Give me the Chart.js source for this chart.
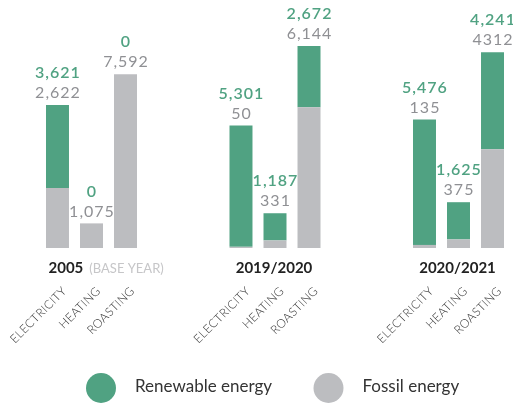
<!DOCTYPE html>
<html lang="en">
<head>
    <meta charset="UTF-8">
    <title>Energy use by source</title>
    <script src="https://cdn.jsdelivr.net/npm/chart.js"></script>
    <style>
        html, body { margin: 0; padding: 0; background: #fff; }
        #wrap { width: 513px; height: 403px; }
    </style>
</head>
<body>
    <div id="wrap"><canvas id="energy-chart"></canvas></div>

    <script>
        // periods along the x axis and the three uses shown in each
        const periods = ['2005', '2019/2020', '2020/2021'];
        const periodNotes = ['(BASE YEAR)', '', ''];
        const uses = ['ELECTRICITY', 'HEATING', 'ROASTING'];

        // renewable energy per use, one value per period
        const renewableElectricity = [3621, 5301, 5476];
        const renewableHeating = [0, 1187, 1625];
        const renewableRoasting = [0, 2672, 4241];

        // fossil energy per use, one value per period
        const fossilElectricity = [2622, 50, 135];
        const fossilHeating = [1075, 331, 375];
        const fossilRoasting = [7592, 6144, 4312];

        // the printed labels (the last roasting figure has no comma in the source)
        const fmt = v => v.toLocaleString('en-US');
        const fossilRoastingText = ['7,592', '6,144', '4312'];

        const GREEN = '#50a282';
        const GREY = '#bcbdc0';
        const FONT = 'Lato, "Noto Sans", sans-serif';

        const renewable = [renewableElectricity, renewableHeating, renewableRoasting];
        const fossil = [fossilElectricity, fossilHeating, fossilRoasting];
        const fossilText = [fossilElectricity.map(fmt), fossilHeating.map(fmt), fossilRoastingText];

        const datasets = [];
        uses.forEach((use, i) => {
            datasets.push({ label: 'Fossil energy', use: i, kind: 'fossil', stack: use,
                data: fossil[i], backgroundColor: GREY, clip: false });
            datasets.push({ label: 'Renewable energy', use: i, kind: 'renewable', stack: use,
                data: renewable[i], backgroundColor: GREEN, clip: false });
        });

        // numbers above each bar, period titles, rotated use labels and the legend
        const annotate = {
            id: 'annotate',
            afterDatasetsDraw(chart) {
                const ctx = chart.ctx;
                const y = chart.scales.y;
                const base = y.getPixelForValue(0);
                ctx.save();

                uses.forEach((use, i) => {
                    const meta = chart.getDatasetMeta(i * 2 + 1);
                    meta.data.forEach((bar, j) => {
                        const top = y.getPixelForValue(fossil[i][j] + renewable[i][j]);
                        ctx.textAlign = 'center';
                        ctx.textBaseline = 'middle';
                        ctx.letterSpacing = '1px';
                        ctx.font = '16px ' + FONT;
                        ctx.fillStyle = '#8f9094';
                        ctx.fillText(fossilText[i][j], bar.x + 0.5, top - 12);
                        ctx.font = '600 16px ' + FONT;
                        ctx.fillStyle = GREEN;
                        ctx.fillText(fmt(renewable[i][j]), bar.x + 0.5, top - 32);
                        ctx.letterSpacing = '0px';

                        // rotated category label
                        ctx.save();
                        ctx.translate(bar.x + 7, base + 41);
                        ctx.rotate(-Math.PI / 4);
                        ctx.textAlign = 'right';
                        ctx.letterSpacing = '0.3px';
                        ctx.font = '300 12px ' + FONT;
                        ctx.fillStyle = '#333';
                        ctx.fillText(use, 0, 0);
                        ctx.restore();
                    });
                });

                // period titles
                const x = chart.scales.x;
                periods.forEach((p, j) => {
                    const cx = x.getPixelForValue(j);
                    ctx.textBaseline = 'middle';
                    ctx.font = 'bold 15px ' + FONT;
                    const w1 = ctx.measureText(p).width;
                    if (periodNotes[j]) {
                        ctx.textAlign = 'left';
                        ctx.fillStyle = '#222';
                        const left = cx - 43;
                        ctx.fillText(p, left, base + 20);
                        ctx.font = '13px ' + FONT;
                        ctx.fillStyle = '#c6c6c8';
                        ctx.fillText(periodNotes[j], left + w1 + 6, base + 21);
                    } else {
                        ctx.textAlign = 'center';
                        ctx.fillStyle = '#222';
                        ctx.fillText(p, cx - 1, base + 20);
                    }
                });

                // legend
                const items = [
                    { text: datasets[1].label, color: datasets[1].backgroundColor, cx: 101 },
                    { text: datasets[0].label, color: datasets[0].backgroundColor, cx: 328.5 }
                ];
                items.forEach(it => {
                    ctx.beginPath();
                    ctx.arc(it.cx, 388, 15, 0, Math.PI * 2);
                    ctx.fillStyle = it.color;
                    ctx.fill();
                    ctx.font = '17px ' + FONT;
                    ctx.fillStyle = '#333';
                    ctx.textAlign = 'left';
                    ctx.textBaseline = 'middle';
                    ctx.fillText(it.text, it.cx + 34, 387);
                });

                ctx.restore();
            }
        };

        const ctx = document.getElementById('energy-chart').getContext('2d');
        new Chart(ctx, {
            type: 'bar',
            data: { labels: periods, datasets: datasets },
            options: {
                responsive: true,
                maintainAspectRatio: false,
                animation: false,
                categoryPercentage: 0.556,
                barPercentage: 0.676,
                layout: { padding: { left: 91.5, right: 54.5, top: 19, bottom: 155 } },
                scales: {
                    x: { display: false, stacked: true, offset: false },
                    y: { display: false, stacked: true, min: 0, max: 10000 }
                },
                plugins: {
                    legend: { display: false },
                    tooltip: { enabled: false }
                }
            },
            plugins: [annotate]
        });
    </script>
</body>
</html>
